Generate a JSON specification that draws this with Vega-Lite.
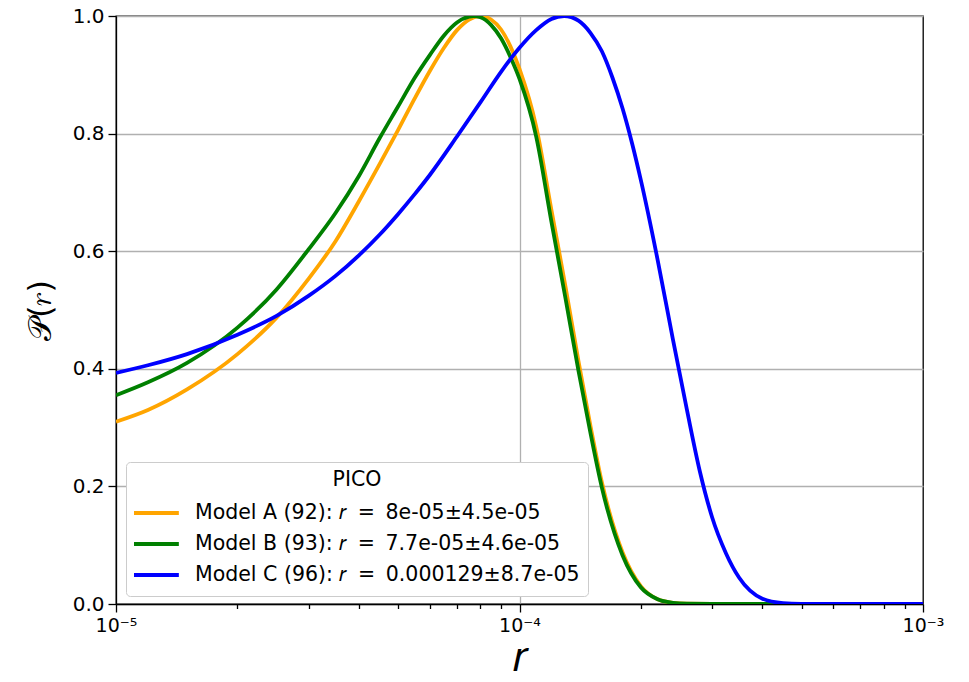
{
  "$schema": "https://vega.github.io/schema/vega-lite/v6.json",
  "width": 807,
  "height": 588,
  "autosize": {"type": "none"},
  "padding": {"left": 116, "top": 16, "right": 46, "bottom": 78},
  "background": "white",
  "config": {
    "font": "DejaVu Sans",
    "view": {"stroke": "black", "strokeWidth": 1.3},
    "axis": {
      "domainColor": "black",
      "domainWidth": 1.3,
      "tickColor": "black",
      "tickWidth": 1.3,
      "labelColor": "black",
      "titleColor": "black",
      "gridColor": "#b0b0b0",
      "gridWidth": 1.3
    }
  },
  "data": {
    "values": [
      {"m": "A", "r": 1e-5, "p": 0.31},
      {"m": "A", "r": 1.2e-5, "p": 0.33},
      {"m": "A", "r": 1.5e-5, "p": 0.365},
      {"m": "A", "r": 2e-5, "p": 0.425},
      {"m": "A", "r": 2.5e-5, "p": 0.487},
      {"m": "A", "r": 3e-5, "p": 0.553},
      {"m": "A", "r": 3.5e-5, "p": 0.617},
      {"m": "A", "r": 4e-5, "p": 0.685},
      {"m": "A", "r": 4.5e-5, "p": 0.748},
      {"m": "A", "r": 5e-5, "p": 0.806},
      {"m": "A", "r": 5.5e-5, "p": 0.86},
      {"m": "A", "r": 6e-5, "p": 0.907},
      {"m": "A", "r": 6.5e-5, "p": 0.946},
      {"m": "A", "r": 7e-5, "p": 0.976},
      {"m": "A", "r": 7.5e-5, "p": 0.994},
      {"m": "A", "r": 8e-5, "p": 1.0},
      {"m": "A", "r": 8.5e-5, "p": 0.994},
      {"m": "A", "r": 9e-5, "p": 0.977},
      {"m": "A", "r": 9.5e-5, "p": 0.948},
      {"m": "A", "r": 1e-4, "p": 0.91},
      {"m": "A", "r": 1.1e-4, "p": 0.812},
      {"m": "A", "r": 1.2e-4, "p": 0.67},
      {"m": "A", "r": 1.3e-4, "p": 0.54},
      {"m": "A", "r": 1.4e-4, "p": 0.413},
      {"m": "A", "r": 1.5e-4, "p": 0.302},
      {"m": "A", "r": 1.6e-4, "p": 0.207},
      {"m": "A", "r": 1.8e-4, "p": 0.088},
      {"m": "A", "r": 2e-4, "p": 0.03},
      {"m": "A", "r": 2.2e-4, "p": 0.008},
      {"m": "A", "r": 2.4e-4, "p": 0.002},
      {"m": "A", "r": 2.6e-4, "p": 0.0004},
      {"m": "A", "r": 3e-4, "p": 0},
      {"m": "A", "r": 1e-3, "p": 0},
      {"m": "B", "r": 1e-5, "p": 0.355},
      {"m": "B", "r": 1.2e-5, "p": 0.377},
      {"m": "B", "r": 1.5e-5, "p": 0.41},
      {"m": "B", "r": 2e-5, "p": 0.47},
      {"m": "B", "r": 2.5e-5, "p": 0.535},
      {"m": "B", "r": 3e-5, "p": 0.603},
      {"m": "B", "r": 3.5e-5, "p": 0.665},
      {"m": "B", "r": 4e-5, "p": 0.728},
      {"m": "B", "r": 4.5e-5, "p": 0.792},
      {"m": "B", "r": 5e-5, "p": 0.846},
      {"m": "B", "r": 5.5e-5, "p": 0.895},
      {"m": "B", "r": 6e-5, "p": 0.934},
      {"m": "B", "r": 6.5e-5, "p": 0.967},
      {"m": "B", "r": 7e-5, "p": 0.989},
      {"m": "B", "r": 7.5e-5, "p": 0.999},
      {"m": "B", "r": 7.7e-5, "p": 1.0},
      {"m": "B", "r": 8e-5, "p": 0.998},
      {"m": "B", "r": 8.5e-5, "p": 0.985},
      {"m": "B", "r": 9e-5, "p": 0.962},
      {"m": "B", "r": 9.5e-5, "p": 0.93},
      {"m": "B", "r": 1e-4, "p": 0.893},
      {"m": "B", "r": 1.1e-4, "p": 0.795},
      {"m": "B", "r": 1.2e-4, "p": 0.65},
      {"m": "B", "r": 1.3e-4, "p": 0.52},
      {"m": "B", "r": 1.4e-4, "p": 0.397},
      {"m": "B", "r": 1.5e-4, "p": 0.29},
      {"m": "B", "r": 1.6e-4, "p": 0.198},
      {"m": "B", "r": 1.8e-4, "p": 0.083},
      {"m": "B", "r": 2e-4, "p": 0.028},
      {"m": "B", "r": 2.2e-4, "p": 0.008},
      {"m": "B", "r": 2.4e-4, "p": 0.002},
      {"m": "B", "r": 2.6e-4, "p": 0.0004},
      {"m": "B", "r": 3e-4, "p": 0},
      {"m": "B", "r": 1e-3, "p": 0},
      {"m": "C", "r": 1e-5, "p": 0.393},
      {"m": "C", "r": 1.2e-5, "p": 0.406},
      {"m": "C", "r": 1.5e-5, "p": 0.425},
      {"m": "C", "r": 2e-5, "p": 0.458},
      {"m": "C", "r": 2.5e-5, "p": 0.49},
      {"m": "C", "r": 3e-5, "p": 0.524},
      {"m": "C", "r": 3.5e-5, "p": 0.558},
      {"m": "C", "r": 4e-5, "p": 0.593},
      {"m": "C", "r": 4.5e-5, "p": 0.628},
      {"m": "C", "r": 5e-5, "p": 0.663},
      {"m": "C", "r": 5.5e-5, "p": 0.697},
      {"m": "C", "r": 6e-5, "p": 0.73},
      {"m": "C", "r": 7e-5, "p": 0.795},
      {"m": "C", "r": 8e-5, "p": 0.853},
      {"m": "C", "r": 9e-5, "p": 0.905},
      {"m": "C", "r": 1e-4, "p": 0.946},
      {"m": "C", "r": 1.1e-4, "p": 0.976},
      {"m": "C", "r": 1.2e-4, "p": 0.995},
      {"m": "C", "r": 1.29e-4, "p": 1.0},
      {"m": "C", "r": 1.4e-4, "p": 0.992},
      {"m": "C", "r": 1.5e-4, "p": 0.971},
      {"m": "C", "r": 1.6e-4, "p": 0.94},
      {"m": "C", "r": 1.7e-4, "p": 0.895},
      {"m": "C", "r": 1.8e-4, "p": 0.843},
      {"m": "C", "r": 1.9e-4, "p": 0.784},
      {"m": "C", "r": 2e-4, "p": 0.72},
      {"m": "C", "r": 2.2e-4, "p": 0.585},
      {"m": "C", "r": 2.4e-4, "p": 0.45},
      {"m": "C", "r": 2.6e-4, "p": 0.33},
      {"m": "C", "r": 2.8e-4, "p": 0.225},
      {"m": "C", "r": 3e-4, "p": 0.148},
      {"m": "C", "r": 3.25e-4, "p": 0.086},
      {"m": "C", "r": 3.5e-4, "p": 0.045},
      {"m": "C", "r": 4e-4, "p": 0.009},
      {"m": "C", "r": 4.5e-4, "p": 0.0015},
      {"m": "C", "r": 5e-4, "p": 0.0002},
      {"m": "C", "r": 6e-4, "p": 0},
      {"m": "C", "r": 1e-3, "p": 0}
    ]
  },
  "mark": {"type": "line", "strokeWidth": 3.8, "interpolate": "monotone", "clip": true},
  "encoding": {
    "x": {
      "field": "r",
      "type": "quantitative",
      "scale": {"type": "log", "domain": [1e-5, 1e-3]},
      "axis": {
        "title": "𝑟",
        "titleFontSize": 42,
        "titleFontWeight": "normal",
        "titlePadding": 2,
        "values": [1e-5, 2e-5, 3e-5, 4e-5, 5e-5, 6e-5, 7e-5, 8e-5, 9e-5, 1e-4, 2e-4, 3e-4, 4e-4, 5e-4, 6e-4, 7e-4, 8e-4, 9e-4, 1e-3],
        "labelExpr": "datum.value < 1.5e-5 ? '10⁻⁵' : (abs(datum.value - 1e-4) < 1e-9 ? '10⁻⁴' : (datum.value > 9.5e-4 ? '10⁻³' : ''))",
        "labelFontSize": 19,
        "labelOverlap": false,
        "labelFlush": false,
        "labelPadding": 4,
        "tickSize": {"condition": {"test": "datum.value < 1.5e-5 || abs(datum.value - 1e-4) < 1e-9 || datum.value > 9.5e-4", "value": 8}, "value": 4.5},
        "grid": true,
        "gridOpacity": {"condition": {"test": "abs(datum.value - 1e-4) < 1e-9", "value": 1}, "value": 0}
      }
    },
    "y": {
      "field": "p",
      "type": "quantitative",
      "scale": {"domain": [0, 1], "nice": false},
      "axis": {
        "title": "𝒫(𝑟)",
        "titleFontSize": 32,
        "titleFontWeight": "normal",
        "titlePadding": 15,
        "values": [0, 0.2, 0.4, 0.6, 0.8, 1.0],
        "format": ".1f",
        "labelFontSize": 20,
        "labelPadding": 4,
        "tickSize": 8,
        "grid": true
      }
    },
    "color": {
      "field": "m",
      "type": "nominal",
      "scale": {"domain": ["A", "B", "C"], "range": ["#FFA500", "#008000", "#0000FF"]},
      "legend": {
        "title": "PICO",
        "orient": "none",
        "legendX": 10,
        "legendY": 446,
        "direction": "vertical",
        "symbolType": "stroke",
        "symbolSize": 2180,
        "symbolStrokeWidth": 4,
        "symbolOffset": -4,
        "clipHeight": 25,
        "labelFontSize": 20.5,
        "labelLimit": 600,
        "labelOffset": 14,
        "labelColor": "black",
        "titleFontSize": 20.5,
        "titleFontWeight": "normal",
        "titleColor": "black",
        "titleAnchor": "middle",
        "titlePadding": 10,
        "rowPadding": 6,
        "padding": 8,
        "fillColor": "white",
        "strokeColor": "#cccccc",
        "cornerRadius": 4,
        "labelExpr": "datum.label == 'A' ? 'Model A (92): 𝑟 \u2009=\u2009 8e-05±4.5e-05' : (datum.label == 'B' ? 'Model B (93): 𝑟 \u2009=\u2009 7.7e-05±4.6e-05' : 'Model C (96): 𝑟 \u2009=\u2009 0.000129±8.7e-05')"
      }
    }
  }
}
